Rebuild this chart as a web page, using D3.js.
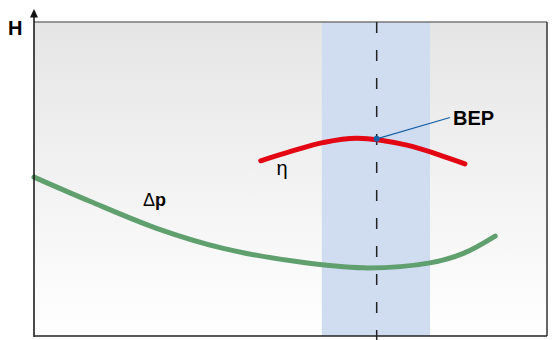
<!DOCTYPE html>
<html>
<head>
<meta charset="utf-8">
<script src="https://d3js.org/d3.v7.min.js"></script>
<style>
  body { margin: 0; background: #fff; }
  text { font-family: "Liberation Sans", Arial, sans-serif; }
</style>
</head>
<body>
<svg id="vis-svg"></svg>
<script>
// flow (0..100) vs head (0..100)
const pressureQ = [0, 10.9, 23.9, 36.9, 51.2, 64.2, 77.2, 83.7, 89.9];
const pressureH = [50.6, 42.9, 34.3, 27.9, 23.7, 21.7, 23.3, 26.3, 31.8];

const effQ = [44.2, 49.9, 56.3, 63.0, 72.7, 79.1, 84.0];
const effH = [55.8, 58.7, 61.6, 63.0, 60.8, 57.6, 54.8];

// operating band and best efficiency point
const bandRange = [56.1, 77.2];
const bepQ = 66.8;
const bepH = 62.8;

let svg = d3.select("#vis-svg")
    .attr("width", 553)
    .attr("height", 340);

let xScale = d3.scaleLinear()
    .domain([0, 100])
    .range([34, 547]);

let yScale = d3.scaleLinear()
    .domain([0, 100])
    .range([336, 22]);

// background gradient
let grad = svg.append("defs").append("linearGradient")
    .attr("id", "bg")
    .attr("x1", 0).attr("y1", 0)
    .attr("x2", 0).attr("y2", 1);
grad.append("stop").attr("offset", "0%").attr("stop-color", "#e5e5e5");
grad.append("stop").attr("offset", "100%").attr("stop-color", "#ffffff");

svg.append("rect")
    .attr("x", xScale(0))
    .attr("y", yScale(100))
    .attr("width", xScale(100) - xScale(0))
    .attr("height", yScale(0) - yScale(100))
    .style("fill", "url(#bg)");

// operating band
svg.append("rect")
    .attr("x", xScale(bandRange[0]))
    .attr("y", yScale(100))
    .attr("width", xScale(bandRange[1]) - xScale(bandRange[0]))
    .attr("height", yScale(0) - yScale(100))
    .style("fill", "#d0dcf0");

// frame: top and right
svg.append("line")
    .attr("x1", xScale(0)).attr("x2", xScale(100))
    .attr("y1", yScale(100)).attr("y2", yScale(100))
    .style("stroke", "#777").style("stroke-width", 1.5);
svg.append("line")
    .attr("x1", xScale(100)).attr("x2", xScale(100))
    .attr("y1", yScale(100)).attr("y2", yScale(0))
    .style("stroke", "#333").style("stroke-width", 1.5);

// dashed BEP line
svg.append("line")
    .attr("x1", xScale(bepQ)).attr("x2", xScale(bepQ))
    .attr("y1", yScale(100)).attr("y2", 340)
    .style("stroke", "#222")
    .style("stroke-width", 1.5)
    .style("stroke-dasharray", "11,17");

let line = d3.line()
    .x(d => xScale(d[0]))
    .y(d => yScale(d[1]))
    .curve(d3.curveCatmullRom);

// pressure curve
svg.append("path")
    .datum(d3.zip(pressureQ, pressureH))
    .attr("d", line)
    .style("fill", "none")
    .style("stroke", "#60a06f")
    .style("stroke-width", 5)
    .style("stroke-linecap", "round");

// efficiency curve
svg.append("path")
    .datum(d3.zip(effQ, effH))
    .attr("d", line)
    .style("fill", "none")
    .style("stroke", "#e30613")
    .style("stroke-width", 5)
    .style("stroke-linecap", "round");

// axes: left with arrow, bottom
svg.append("line")
    .attr("x1", xScale(0)).attr("x2", xScale(0))
    .attr("y1", 15).attr("y2", yScale(0) + 1)
    .style("stroke", "#111").style("stroke-width", 1.5);
svg.append("path")
    .attr("d", `M${xScale(0)},9 L${xScale(0) + 4},17.5 L${xScale(0) - 4},17.5 Z`)
    .style("fill", "#111");
svg.append("line")
    .attr("x1", xScale(0)).attr("x2", xScale(100))
    .attr("y1", yScale(0)).attr("y2", yScale(0))
    .style("stroke", "#222").style("stroke-width", 1.5);

// BEP marker + leader
svg.append("line")
    .attr("x1", xScale(bepQ)).attr("y1", yScale(bepH))
    .attr("x2", 450).attr("y2", 117.5)
    .style("stroke", "#1560a8").style("stroke-width", 1.3);
svg.append("circle")
    .attr("cx", xScale(bepQ)).attr("cy", yScale(bepH))
    .attr("r", 3)
    .style("fill", "#1560a8");

// labels
svg.append("text")
    .attr("x", 453).attr("y", 125)
    .style("font-size", "20px").style("font-weight", "bold")
    .text("BEP");

svg.append("text")
    .attr("x", 8).attr("y", 35)
    .style("font-size", "20px").style("font-weight", "bold")
    .text("H");

svg.append("text")
    .attr("x", 282).attr("y", 175)
    .attr("text-anchor", "middle")
    .style("font-size", "20px")
    .text("η");

let dp = svg.append("text")
    .attr("x", 143).attr("y", 206)
    .style("font-size", "18px");
dp.append("tspan").text("Δ");
dp.append("tspan").style("font-weight", "bold").text("p");
</script>
</body>
</html>
